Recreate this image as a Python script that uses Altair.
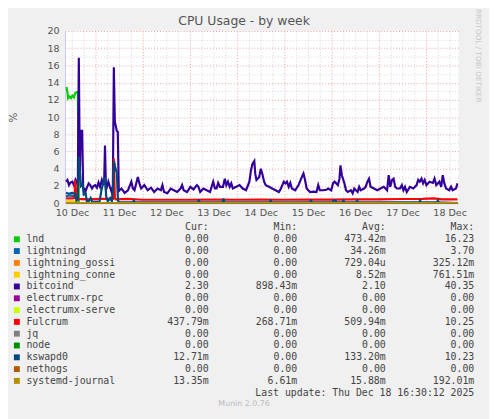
import altair as alt
import pandas as pd

# ---------------- series (hours since 10 Dec 00:00, CPU %) ----------------
names = ["lnd", "lightningd", "lightning_gossi", "lightning_conne", "bitcoind",
         "electrumx-rpc", "electrumx-serve", "Fulcrum", "jq", "node",
         "kswapd0", "nethogs", "systemd-journal"]
palette = ["#00CC00", "#0066B3", "#FF8000", "#FFCC00", "#330099", "#990099",
           "#CCFF00", "#FF0000", "#808080", "#008F00", "#00487D", "#B35A00",
           "#B38F00"]

lnd_h = [9.2, 9.7, 10.0, 10.7, 11.5, 12.2, 13.0, 13.7, 14.4, 15.0, 15.5, 208.0]
lnd_v = [13.5, 12.9, 12.2, 12.4, 12.2, 12.5, 12.3, 12.8, 12.9, 12.9, 0.0, 0.0]

lightningd_h = [9.0, 11.0, 13.0, 14.5, 15.0, 208.0]
lightningd_v = [0.8, 0.9, 0.8, 0.9, 0.0, 0.0]

gossi_h = [9.0, 208.0]
gossi_v = [0.0, 0.0]

conne_h = [9.0, 14.6, 14.9, 208.0]
conne_v = [0.2, 0.2, 0.0, 0.0]

bitcoind_h = [9.0, 9.7, 10.5, 11.3, 12.2, 13.0, 13.8, 14.7, 15.0, 15.5, 16.0, 16.4,
              17.2, 17.7, 18.3, 18.8, 19.6, 20.5, 21.3, 22.2, 23.0, 23.8, 24.7, 25.5,
              26.3, 27.2, 28.0, 28.4, 28.8, 29.3, 30.5, 31.3, 32.2, 32.8, 33.3, 33.8,
              34.8, 35.3, 35.8, 37.2, 38.8, 40.5, 42.2, 43.0, 43.8, 45.5, 46.3, 47.2,
              48.8, 50.5, 52.2, 53.8, 55.5, 57.2, 58.0, 58.8, 60.5, 62.2, 63.8, 65.5,
              67.2, 68.0, 68.8, 70.5, 72.2, 73.8, 75.5, 76.3, 77.2, 78.8, 80.5, 82.2,
              83.8, 84.7, 85.5, 86.3, 87.2, 88.8, 89.7, 90.5, 91.3, 92.2, 93.0, 93.8,
              95.5, 97.2, 98.8, 100.5, 102.2, 103.0, 103.8, 104.7, 105.2, 105.8, 107.2,
              108.0, 108.8, 109.7, 110.5, 112.2, 113.8, 115.5, 117.2, 118.0, 119.7,
              120.5, 121.3, 122.2, 123.0, 123.8, 125.5, 127.2, 128.5, 129.7, 130.5,
              131.3, 133.0, 134.7, 136.3, 137.2, 138.0, 139.7, 141.3, 142.2, 143.8,
              144.7, 145.5, 147.2, 148.0, 148.5, 149.2, 150.5, 151.3, 152.2, 153.8,
              154.7, 155.5, 157.2, 158.0, 158.8, 160.5, 161.3, 162.2, 163.0, 163.8,
              165.5, 167.2, 168.8, 170.5, 172.2, 173.0, 173.8, 174.7, 175.5, 176.3,
              177.2, 178.8, 179.7, 180.5, 181.3, 182.2, 183.8, 185.5, 187.2, 188.0,
              188.8, 189.7, 190.5, 191.3, 192.2, 193.8, 195.5, 196.3, 197.2, 198.8,
              199.7, 200.5, 201.3, 202.2, 203.8, 204.7, 205.5, 207.2, 208.0]
bitcoind_v = [2.5, 2.7, 2.1, 2.4, 2.5, 2.1, 2.7, 2.2, 2.4, 16.9, 3.0, 8.4,
              8.4, 1.8, 1.7, 1.3, 1.8, 2.3, 2.1, 1.7, 2.0, 2.1, 1.8, 2.4,
              1.9, 2.7, 2.1, 2.6, 6.7, 1.5, 2.5, 1.9, 1.3, 2.0, 15.8, 9.5,
              8.4, 8.3, 1.4, 1.7, 1.2, 1.5, 2.5, 1.7, 1.5, 3.05, 2.3, 1.7,
              2.1, 1.5, 1.8, 1.3, 1.7, 1.5, 2.1, 1.3, 1.15, 1.7, 1.5, 1.3,
              1.7, 2.1, 1.5, 1.3, 1.9, 1.6, 2.1, 1.9, 1.3, 1.7, 1.5, 1.3,
              2.5, 1.7, 1.7, 2.35, 1.9, 1.9, 2.85, 2.1, 2.5, 1.9, 2.3, 1.7,
              1.9, 2.1, 1.7, 1.5, 2.5, 3.8, 4.6, 4.9, 3.4, 2.7, 3.05,
              4.0, 3.4, 2.5, 2.1, 1.9, 1.7, 1.5, 1.3, 1.6, 2.5,
              2.3, 2.5, 1.9, 2.35, 1.7, 1.5, 2.1, 2.85, 3.45, 2.7,
              1.7, 1.3, 1.35, 1.3, 2.1, 1.5, 1.5, 1.55, 1.7, 1.5,
              2.3, 2.5, 2.1, 2.85, 4.4, 3.25, 2.3, 1.5, 1.3, 1.5,
              1.15, 1.7, 1.3, 1.9, 1.5, 1.7, 1.9, 2.5, 2.85, 1.9,
              1.7, 1.5, 1.7, 1.9, 1.5, 3.25, 1.9, 2.7, 2.85, 1.9,
              1.7, 1.7, 2.1, 1.5, 1.9, 1.3, 1.9, 1.7, 2.1, 2.7,
              2.5, 2.85, 2.3, 2.7, 2.1, 2.5, 2.35, 2.85, 2.1, 2.5,
              1.9, 3.25, 2.3, 1.7, 1.5, 1.9, 1.5, 1.7, 2.3]

zero_h = [9.0, 208.0]
zero_v = [0.0, 0.0]

fulcrum_h = [9.0, 12.0, 13.3, 13.6, 14.2, 14.6, 20.0, 28.0, 32.8, 33.3, 33.8, 34.3,
             40.0, 48.0, 60.0, 72.0, 84.0, 96.0, 108.0, 120.0, 132.0, 144.0, 156.0,
             168.0, 180.0, 190.0, 196.0, 200.0, 208.0]
fulcrum_v = [0.55, 0.55, 0.6, 2.7, 1.2, 0.5, 0.45, 0.5, 0.5, 5.2, 0.6, 0.45,
             0.5, 0.4, 0.4, 0.4, 0.42, 0.4, 0.42, 0.4, 0.42, 0.42, 0.45,
             0.45, 0.48, 0.5, 0.55, 0.45, 0.44]

kswapd0_h = [9.0, 10.5, 12.0, 13.5, 14.3, 15.0, 15.5, 16.0, 16.6, 17.4, 18.0, 19.0,
             19.6, 20.5, 21.5, 22.3, 26.0, 27.0, 28.0, 28.8, 29.4, 30.2, 31.5, 32.3,
             32.8, 33.4, 34.0, 34.8, 35.4, 36.0, 43.0, 43.5, 44.0, 76.0, 76.5, 77.0,
             88.5, 89.0, 89.5, 112.5, 113.0, 113.5, 133.0, 133.5, 134.0, 144.5, 145.0,
             146.0, 146.5, 149.5, 150.0, 150.5, 156.5, 157.0, 157.5, 188.5, 189.0,
             189.5, 197.5, 198.0, 198.5, 208.0]
kswapd0_v = [1.2, 1.1, 1.2, 1.1, 0.3, 0.5, 5.4, 3.8, 2.0, 2.2, 1.0, 1.1,
             0.2, 0.2, 0.6, 0.15, 0.15, 1.5, 2.5, 3.0, 0.8, 0.2, 0.6, 0.2,
             1.5, 4.9, 4.2, 3.5, 0.3, 0.1, 0.1, 0.3, 0.1, 0.1, 0.3, 0.1,
             0.1, 0.55, 0.1, 0.1, 0.3, 0.1, 0.1, 0.3, 0.1, 0.1, 0.3,
             0.3, 0.1, 0.1, 0.3, 0.1, 0.1, 0.3, 0.1, 0.1, 0.3,
             0.1, 0.1, 0.3, 0.1, 0.02]

journal_h = [9.0, 208.0]
journal_v = [0.016, 0.016]

series_points = {
    "lnd": (lnd_h, lnd_v),
    "lightningd": (lightningd_h, lightningd_v),
    "lightning_gossi": (gossi_h, gossi_v),
    "lightning_conne": (conne_h, conne_v),
    "bitcoind": (bitcoind_h, bitcoind_v),
    "electrumx-rpc": (zero_h, zero_v),
    "electrumx-serve": (zero_h, zero_v),
    "Fulcrum": (fulcrum_h, fulcrum_v),
    "jq": (zero_h, zero_v),
    "node": (zero_h, zero_v),
    "kswapd0": (kswapd0_h, kswapd0_v),
    "nethogs": (zero_h, zero_v),
    "systemd-journal": (journal_h, journal_v),
}

# ---------------- legend table ----------------
cur_vals = ["0.00", "0.00", "0.00", "0.00", "2.30", "0.00", "0.00", "437.79m",
            "0.00", "0.00", "12.71m", "0.00", "13.35m"]
min_vals = ["0.00", "0.00", "0.00", "0.00", "898.43m", "0.00", "0.00", "268.71m",
            "0.00", "0.00", "0.00", "0.00", "6.61m"]
avg_vals = ["473.42m", "34.26m", "729.04u", "8.52m", "2.10", "0.00", "0.00",
            "509.94m", "0.00", "0.00", "133.20m", "0.00", "15.88m"]
max_vals = ["16.23", "3.70", "325.12m", "761.51m", "40.35", "0.00", "0.00",
            "10.25", "0.00", "0.00", "10.23", "0.00", "192.01m"]
col_names = ["Cur", "Min", "Avg", "Max"]
last_update = "Last update: Thu Dec 18 16:30:12 2025"
footer = "Munin 2.0.76"
day_labels = ["10 Dec", "11 Dec", "12 Dec", "13 Dec", "14 Dec", "15 Dec",
              "16 Dec", "17 Dec", "18 Dec"]

NBSP = "\u00a0"

def pad(v):
    return v if v[-1].isalpha() else v + NBSP

# ---------------- scales & axes ----------------
grid_hours = list(range(12, 205, 6))
label_arr = "[" + ",".join("'" + d + "'" for d in day_labels) + "]"

x_axis = alt.Axis(
    values=grid_hours,
    labelExpr=f"datum.value % 24 === 12 ? {label_arr}[floor(datum.value / 24)] : ''",
    grid=True,
    gridColor={"condition": {"test": "datum.value % 24 === 0", "value": "#F0A0A0"},
               "value": "#D6D6D6"},
    gridDash=[1, 2],
    ticks=False,
    domainColor="#C8C8F4",
    labelFont="DejaVu Sans",
    labelFontSize=9.7,
    labelColor="#555555",
    labelPadding=5,
    labelFlush=False,
    labelOverlap=False,
    title=None,
)
y_axis = alt.Axis(
    values=list(range(0, 21)),
    labelExpr="datum.value % 2 === 0 ? datum.label : ''",
    grid=True,
    gridColor={"condition": {"test": "datum.value % 2 === 0", "value": "#F0A0A0"},
               "value": "#D6D6D6"},
    gridDash=[1, 2],
    ticks=False,
    domainColor="#C8C8F4",
    labelFont="DejaVu Sans",
    labelFontSize=9.7,
    labelColor="#555555",
    labelPadding=6,
    labelOverlap=False,
    title="%",
    titleFont="DejaVu Sans",
    titleFontSize=10.5,
    titleFontWeight="normal",
    titleColor="#555555",
    titleX=-52,
    titleY=87.5,
    titleBaseline="middle",
)

x_enc = alt.X("hour:Q", scale=alt.Scale(domain=[8.5, 208.5], nice=False, zero=False), axis=x_axis)
y_enc = alt.Y("value:Q", scale=alt.Scale(domain=[0, 20], nice=False), axis=y_axis)
color_scale = alt.Scale(domain=names, range=palette)

line_layers = []
for n in names:
    h, v = series_points[n]
    df = pd.DataFrame({"hour": h, "value": v, "series": n})
    line_layers.append(
        alt.Chart(df).mark_line(strokeWidth=2.2, clip=True).encode(
            x=x_enc, y=y_enc,
            color=alt.Color("series:N", scale=color_scale, legend=None),
        )
    )
lines = alt.layer(*line_layers)

# legend data
rows = list(range(16))
row_scale = alt.Scale(type="point", domain=rows, range=[199.7, 379.7], padding=0)

name_df = pd.DataFrame({"row": list(range(1, 14)), "name": names,
                        "swatch": ["swatch"] * 13, "label": ["label"] * 13})
left_scale = alt.Scale(type="point", domain=["swatch", "label"], range=[-49, -39.3], padding=0)

squares = alt.Chart(name_df).mark_square(size=36, opacity=1, filled=True).encode(
    x=alt.X("swatch:N", scale=left_scale, axis=None),
    y=alt.Y("row:O", scale=row_scale, axis=None),
    color=alt.Color("name:N", scale=color_scale, legend=None),
)
name_txt = alt.Chart(name_df).mark_text(
    align="left", baseline="middle", font="DejaVu Sans Mono", fontSize=10, color="#444444"
).encode(
    x=alt.X("label:N", scale=left_scale, axis=None),
    y=alt.Y("row:O", scale=row_scale, axis=None),
    text="name:N",
)

val_records = []
for c in col_names:
    val_records.append({"row": 0, "col": c, "text": c + ":" + NBSP + NBSP})
for i in range(13):
    for c, arr in zip(col_names, [cur_vals, min_vals, avg_vals, max_vals]):
        val_records.append({"row": i + 1, "col": c, "text": pad(arr[i])})
val_records.append({"row": 14, "col": "Max", "text": last_update})
val_df = pd.DataFrame(val_records)

val_txt = alt.Chart(val_df).mark_text(
    align="right", baseline="middle", font="DejaVu Sans Mono", fontSize=10, color="#444444"
).encode(
    x=alt.X("col:N", scale=alt.Scale(type="point", domain=col_names, range=[146, 416], padding=0), axis=None),
    y=alt.Y("row:O", scale=row_scale, axis=None),
    text="text:N",
)

foot_df = pd.DataFrame({"row": [15], "pos": ["center"], "text": [footer]})
foot_txt = alt.Chart(foot_df).mark_text(
    align="center", baseline="middle", font="DejaVu Sans", fontSize=8, color="#BBBBBB"
).encode(
    x=alt.X("pos:N", scale=alt.Scale(type="point", domain=["center"], range=[182, 182], padding=0), axis=None),
    y=alt.Y("row:O", scale=row_scale, axis=alt.Axis(
        orient="right", title="RRDTOOL / TOBI OETIKER", labels=False, ticks=False,
        domain=False, grid=False, titleAngle=90, titleX=19.7, titleY=-23,
        titleAlign="left", titleBaseline="middle", titleFont="DejaVu Sans",
        titleFontSize=7.4, titleFontWeight="normal", titleColor="#C8C8C8")),
    text="text:N",
)

chart = alt.layer(lines, squares, name_txt, val_txt, foot_txt).resolve_scale(
    x="independent", y="independent", color="independent"
).properties(
    width=400,
    height=175,
    autosize=alt.AutoSizeParams(type="none"),
    padding={"left": 58, "top": 20, "right": 31, "bottom": 216},
    title=alt.TitleParams("CPU Usage - by week", font="DejaVu Sans", fontSize=12.6,
                          fontWeight="normal", color="#555555", anchor="middle",
                          dx=-18, offset=-19),
).configure(background="#F0F0F0").configure_view(fill="white", stroke=None)

chart.save("out.html", embed_options={"renderer": "svg", "actions": False})
